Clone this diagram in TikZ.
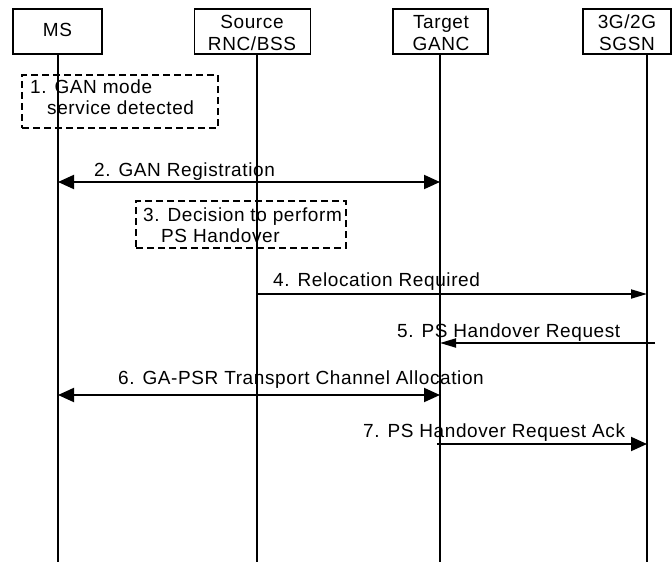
\documentclass[tikz,border=0pt]{standalone}
\usepackage{fontspec}
\setmainfont{Liberation Sans}[LetterSpace=3.2]
\usetikzlibrary{arrows.meta}
\begin{document}
\begin{tikzpicture}[x=1pt,y=-1pt,font=\fontsize{19}{22}\selectfont]
\tikzset{
 lane/.style={line width=1.9pt},
 actor/.style={draw, line width=1.9pt, minimum width=#1, minimum height=45pt, inner sep=0pt},
 txt/.style={inner sep=0pt, anchor=base west},
 ctxt/.style={inner sep=0pt, anchor=base},
 note/.style={draw, line width=1.9pt, dash pattern=on 7pt off 4pt, inner sep=0pt},
 msg/.style={line width=1.9pt, -{Triangle[length=16pt,width=14pt]}},
 msgn/.style={line width=1.9pt, -{Triangle[length=16pt,width=9pt]}},
 bmsg/.style={line width=1.9pt, {Triangle[length=16pt,width=14pt]}-{Triangle[length=16pt,width=14pt]}},
}
\path[fill=white] (0,0) rectangle (672,562);
\useasboundingbox (0,0) rectangle (672,562);

% actor boxes
\node[actor=89pt] (ms) at (57.5,31.5) {};
\node[actor=116pt] (src) at (252.5,31.5) {};
\node[actor=95pt] (ganc) at (440.5,31.5) {};
\node[actor=88pt] (sgsn) at (627,31.5) {};
\node[ctxt] (msT) at (57.5,36) {MS};
\node[ctxt] (srcT1) at (252,28) {Source};
\node[ctxt] (srcT2) at (252,50) {RNC/BSS};
\node[ctxt] (gancT1) at (441,28) {Target};
\node[ctxt] (gancT2) at (441,50) {GANC};
\node[ctxt] (sgsnT1) at (627,28) {3G/2G};
\node[ctxt] (sgsnT2) at (627,50) {SGSN};

% lifelines
\coordinate (msTop) at (58,54);   \coordinate (msEnd) at (58,562);
\coordinate (srcTop) at (257,54); \coordinate (srcEnd) at (257,562);
\coordinate (gancTop) at (440,54);\coordinate (gancEnd) at (440,562);
\coordinate (sgsnTop) at (647,54);\coordinate (sgsnEnd) at (647,562);
\draw[lane] (msTop) -- (msEnd);
\draw[lane] (srcTop) -- (srcEnd);
\draw[lane] (gancTop) -- (gancEnd);
\draw[lane] (sgsnTop) -- (sgsnEnd);

% step 1
\node[note, minimum width=196pt, minimum height=53pt] (n1) at (120,101.5) {};
\node[txt] (n1a) at (30,93) {1. GAN mode};
\node[txt] (n1b) at (47,114) {service detected};

% step 2
\draw[bmsg] (msTop |- 0,182) -- (gancTop |- 0,182);
\node[txt] (m2) at (94,176) {2. GAN Registration};

% step 3
\node[note, minimum width=210pt, minimum height=47pt] (n3) at (241,224.5) {};
\node[txt] (n3a) at (143,221) {3. Decision to perform};
\node[txt] (n3b) at (161,242) {PS Handover};

% step 4
\draw[msgn] (srcTop |- 0,294) -- (sgsnTop |- 0,294);
\node[txt] (m4) at (273,286) {4. Relocation Required};

% step 5
\coordinate (s5) at (655,343);
\draw[msgn] (s5) -- (gancTop |- s5);
\node[txt] (m5) at (397,337) {5. PS Handover Request};

% step 6
\draw[bmsg] (msTop |- 0,395) -- (gancTop |- 0,395);
\node[txt] (m6) at (118,384) {6. GA-PSR Transport Channel Allocation};

% step 7
\coordinate (s7) at (437,444);
\draw[msg] (s7) -- (sgsnTop |- s7);
\node[txt] (m7) at (363,437) {7. PS Handover Request Ack};
\end{tikzpicture}
\end{document}
